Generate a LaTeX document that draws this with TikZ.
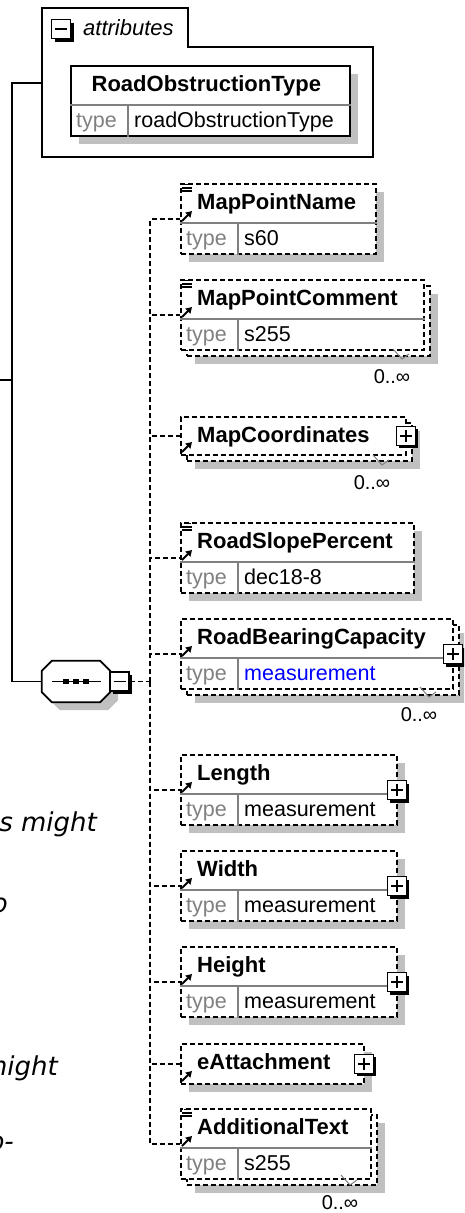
\documentclass[tikz,border=0pt]{standalone}
\usepackage{fontspec}
\setmainfont{Liberation Sans}
\newfontfamily\fragfont{DejaVu Sans}
\usepackage{tikz}
\usetikzlibrary{arrows.meta,shadows,calc}
\definecolor{gridgray}{HTML}{808080}
\definecolor{shadowgray}{HTML}{C0C0C0}
\definecolor{typeblue}{HTML}{0000FF}
\tikzset{
  >={Triangle[length=6pt,width=7pt]},
  wire/.style={line width=1.7pt},
  dwire/.style={line width=1.9pt, dash pattern=on 5pt off 3pt},
  shadowed/.style={drop shadow={shadow xshift=8pt, shadow yshift=-8pt, fill=shadowgray, opacity=1}},
  elem/.style={draw, dwire, fill=white, anchor=north west, inner sep=0pt, minimum height=70pt},
  attr/.style={draw, wire, fill=white, anchor=north west, inner sep=0pt, minimum height=70pt, shadowed},
  divider/.style={draw=gridgray, line width=1.4pt},
  ename/.style={font=\bfseries\fontsize{22}{26}\selectfont, anchor=base west, inner sep=0pt},
  tval/.style={font=\fontsize{21.5}{26}\selectfont, anchor=base west, inner sep=0pt},
  tkey/.style={tval, text=gridgray},
  occ/.style={font=\fontsize{20}{24}\selectfont, inner sep=0pt},
  tog/.style={draw, fill=white, line width=1.3pt, minimum size=19pt, inner sep=0pt,
              drop shadow={shadow xshift=3pt, shadow yshift=-3pt, fill=black, opacity=1}},
  plusbox/.style={tog, path picture={\draw[line width=1.4pt] (path picture bounding box.center)
                  +(-6pt,0pt) -- +(6pt,0pt) +(0pt,-6pt) -- +(0pt,6pt);}},
  minusbox/.style={tog, path picture={\draw[line width=1.4pt] (path picture bounding box.center)
                  +(-6pt,0pt) -- +(6pt,0pt);}},
  seqbox/.style={rectangle, minimum width=68pt, minimum height=41pt, inner sep=0pt},
  frag/.style={font=\fragfont\itshape\fontsize{26}{30}\selectfont, anchor=base east, inner sep=0pt},
}
% type row below the element name
\newcommand\typerow[3][black]{%
  \draw[divider] ($(#2.north west)+(0,40)$) -- ($(#2.north east)+(0,40)$);
  \draw[divider] ($(#2.north west)+(58,40)$) -- ($(#2.south west)+(58,0)$);
  \node[tkey] (#2-key) at ($(#2.north west)+(6,62.5)$) {type};
  \node[tval, text=#1] (#2-val) at ($(#2.north west)+(64,62.5)$) {#3};
}
% simple content mark
\newcommand\simpleicon[1]{%
  \draw[line width=1.4pt] ($(#1.north west)+(4,1.5)$) -- +(7,0)
    ($(#1.north west)+(2,4.8)$) -- +(10,0)
    ($(#1.north west)+(2,8.1)$) -- +(10,0);
}
% reference arrow
\newcommand\refarrow[2]{%
  \draw[line width=1.9pt, ->] ($(#1.north west)+(2,#2)$) -- +(10,-10);
}
% occurrence label
\newcommand\occurs[2]{%
  \node[occ] (#1-occ) at (#2) {0..∞};
  \draw[line width=1pt, gridgray] ($(#1-occ)+(1,-28)$) -- ++(9,10) -- ++(7,-5);
}
% octagon of a sequence node, shifted by #2
\newcommand\octagon[2]{%
  ($(#1.north west)+(10+#2,#2)$) -- ($(#1.north east)+(-10+#2,#2)$)
  -- ($(#1.north east)+(#2,10+#2)$) -- ($(#1.south east)+(#2,-10+#2)$)
  -- ($(#1.south east)+(-10+#2,#2)$) -- ($(#1.south west)+(10+#2,#2)$)
  -- ($(#1.south west)+(#2,-10+#2)$) -- ($(#1.north west)+(#2,10+#2)$) -- cycle
}

\begin{document}
\begin{tikzpicture}[x=1pt, y=-1pt]
  \useasboundingbox (0,0) rectangle (464,1213);
  \clip (0,0) rectangle (464,1213);

  % attribute group
  \coordinate (root) at (0,380);
  \coordinate (fork) at (12,380);
  \coordinate (attrs-in) at (42,83);
  \draw[wire] (42,157) |- (188,8) |- (373,47) -- (373,157) -- cycle;
  \node[minusbox] (attrs-tog) at (61,29) {};
  \node[font=\itshape\fontsize{22}{26}\selectfont, anchor=base west, inner sep=0pt] (attrs-lbl) at (83,35) {attributes};
  \node[attr, minimum width=279pt] (rotype) at (70,65) {};
  \node[ename, anchor=base] (rotype-t) at ($(rotype.north)+(-4,26.5)$) {RoadObstructionType};
  \typerow{rotype}{roadObstructionType}

  % sequence
  \node[seqbox] (seq) at (76,681.5) {};
  \fill[shadowgray] \octagon{seq}{8};
  \draw[wire, fill=white] \octagon{seq}{0};
  \draw[wire] (root) -- (fork);
  \draw[wire] (attrs-in) -| (fork) |- (seq.west);
  \draw[line width=1.5pt] ($(seq)+(-24,0)$) -- ($(seq)+(25,0)$);
  \foreach \dx in {-10,0,10}
    \fill ($(seq)+(\dx,0)$) +(-2.7,-2.7) rectangle +(2.7,2.7);
  \node[minusbox] (seq-tog) at (119.5,681.5) {};
  \coordinate (bus) at (150,681.5);
  \draw[dwire] (seq-tog.east) -- (bus);

  % MapPointName
  \node[elem, shadowed, minimum width=195pt] (mpname) at (180,183) {};
  \node[ename] (mpname-t) at ($(mpname.north west)+(17,26)$) {MapPointName};
  \typerow{mpname}{s60}
  \simpleicon{mpname}
  \refarrow{mpname}{38}
  \draw[dwire] (bus) |- ($(mpname.north west)+(0,36)$);

  % MapPointComment
  \node[elem, shadowed, minimum width=243pt] (mpcomment-bk) at (186,285) {};
  \node[elem, minimum width=243pt] (mpcomment) at (180,279) {};
  \node[ename] (mpcomment-t) at ($(mpcomment.north west)+(17,26)$) {MapPointComment};
  \typerow{mpcomment}{s255}
  \simpleicon{mpcomment}
  \refarrow{mpcomment}{38}
  \occurs{mpcomment}{392,377}
  \draw[dwire] (bus) |- ($(mpcomment.north west)+(0,36)$);

  % MapCoordinates
  \node[elem, shadowed, minimum width=225pt, minimum height=38pt] (mapcoord-bk) at (186,422) {};
  \node[elem, minimum width=225pt, minimum height=38pt] (mapcoord) at (180,416) {};
  \node[ename] (mapcoord-t) at ($(mapcoord.north west)+(17,26)$) {MapCoordinates};
  \node[plusbox] (mapcoord-tog) at ($(mapcoord.east)+(-1,0)$) {};
  \refarrow{mapcoord}{36}
  \occurs{mapcoord}{372,483}
  \draw[dwire] (bus) |- (mapcoord.west);

  % RoadSlopePercent
  \node[elem, shadowed, minimum width=233pt] (slope) at (180,522) {};
  \node[ename] (slope-t) at ($(slope.north west)+(17,26)$) {RoadSlopePercent};
  \typerow{slope}{dec18-8}
  \simpleicon{slope}
  \refarrow{slope}{38}
  \draw[dwire] (bus) |- ($(slope.north west)+(0,36)$);

  % RoadBearingCapacity
  \node[elem, shadowed, minimum width=272pt] (bearing-bk) at (186,624) {};
  \node[elem, minimum width=272pt] (bearing) at (180,618) {};
  \node[ename] (bearing-t) at ($(bearing.north west)+(17,26)$) {RoadBearingCapacity};
  \typerow[typeblue]{bearing}{measurement}
  \node[plusbox] (bearing-tog) at ($(bearing.north east)+(-1,36)$) {};
  \refarrow{bearing}{38}
  \occurs{bearing}{419,715}
  \draw[dwire] (bus) |- ($(bearing.north west)+(0,36)$);

  % Length
  \node[elem, shadowed, minimum width=216pt] (length) at (180,754) {};
  \node[ename] (length-t) at ($(length.north west)+(17,26)$) {Length};
  \typerow{length}{measurement}
  \node[plusbox] (length-tog) at ($(length.north east)+(-1,36)$) {};
  \refarrow{length}{38}
  \draw[dwire] (bus) |- ($(length.north west)+(0,36)$);

  % Width
  \node[elem, shadowed, minimum width=216pt] (width) at (180,850) {};
  \node[ename] (width-t) at ($(width.north west)+(17,26)$) {Width};
  \typerow{width}{measurement}
  \node[plusbox] (width-tog) at ($(width.north east)+(-1,36)$) {};
  \refarrow{width}{38}
  \draw[dwire] (bus) |- ($(width.north west)+(0,36)$);

  % Height
  \node[elem, shadowed, minimum width=216pt] (height) at (180,946) {};
  \node[ename] (height-t) at ($(height.north west)+(17,26)$) {Height};
  \typerow{height}{measurement}
  \node[plusbox] (height-tog) at ($(height.north east)+(-1,36)$) {};
  \refarrow{height}{38}
  \draw[dwire] (bus) |- ($(height.north west)+(0,36)$);

  % eAttachment
  \node[elem, shadowed, minimum width=183pt, minimum height=40pt] (eattach) at (180,1043) {};
  \node[ename] (eattach-t) at ($(eattach.north west)+(17,26)$) {eAttachment};
  \node[plusbox] (eattach-tog) at ($(eattach.east)+(-1,0)$) {};
  \refarrow{eattach}{38}
  \draw[dwire] (bus) |- (eattach.west);

  % AdditionalText
  \node[elem, shadowed, minimum width=190pt] (addtext-bk) at (186,1114) {};
  \node[elem, minimum width=190pt] (addtext) at (180,1108) {};
  \node[ename] (addtext-t) at ($(addtext.north west)+(17,26)$) {AdditionalText};
  \typerow{addtext}{s255}
  \simpleicon{addtext}
  \refarrow{addtext}{38}
  \occurs{addtext}{340,1203}
  \draw[dwire] (bus) |- ($(addtext.north west)+(0,36)$);

  % page text cut by the margin
  \node[frag] (frag-a) at (97,831) {s might};
  \node[frag] (frag-b) at (8,912) {o};
  \node[frag] (frag-c) at (58,1075) {might};
  \node[frag] (frag-d) at (14,1150) {o-};
\end{tikzpicture}
\end{document}
